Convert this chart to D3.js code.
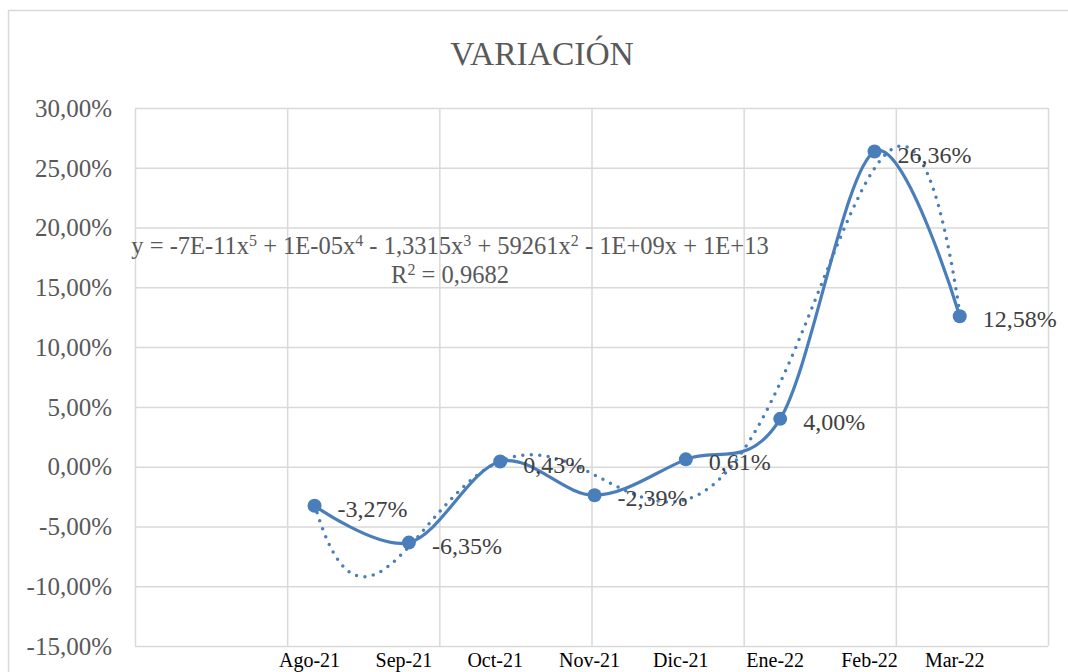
<html lang="es">
<head>
  <meta charset="UTF-8"/>
  <title>Variación</title>
  <script src="https://d3js.org/d3.v7.min.js"></script>
  <style>
    body { margin: 0; background: #fff; }
    svg { display: block; }
    .grid line { stroke: #d9d9d9; stroke-width: 1.5; }
    .grid path { display: none; }
    .ylab text { font-family: 'Liberation Serif', serif; font-size: 25px; fill: #595959; }
    .ylab path, .ylab line { display: none; }
  </style>
</head>
<body>
  <svg width="1068" height="672"></svg>

  <script>

  // monthly values (%)
  const months = ['Ago-21', 'Sep-21', 'Oct-21', 'Nov-21', 'Dic-21', 'Ene-22', 'Feb-22', 'Mar-22'];
  const dates = ['2021-08-01', '2021-09-01', '2021-10-01', '2021-11-01', '2021-12-01', '2022-01-01', '2022-02-01', '2022-03-01'];
  const variation = [-3.27, -6.35, 0.43, -2.39, 0.61, 4.00, 26.36, 12.58];

  const yTicks = [-15, -10, -5, 0, 5, 10, 15, 20, 25, 30];
  // excel date serials of the axis, major unit 50 days
  const xMin = 44350;
  const xMax = 44650;
  const xStep = 50;

  const serial = (s) => {
    const [y, m, d] = s.split('-').map(Number);
    return (Date.UTC(y, m - 1, d) - Date.UTC(1899, 11, 30)) / 864e5;
  };

  const data = dates.map((d, i) => ({ x: serial(d), y: variation[i], label: months[i] }));

  const locale = d3.formatLocale({ decimal: ',', thousands: '.', grouping: [3], currency: ['', ''], minus: '-' });
  const pct = (v) => locale.format('.2f')(v) + '%';

  const svg = d3.select('svg');
  const plotLeft = 135, plotRight = 1048, plotTop = 108, plotBottom = 646;

  // outer chart border
  svg.append('rect')
    .attr('x', 8.5).attr('y', 10.5)
    .attr('width', 1100).attr('height', 700)
    .attr('fill', 'none')
    .attr('stroke', '#d9d9d9')
    .attr('stroke-width', 1.5);

  const xScale = d3.scaleLinear().domain([xMin, xMax]).range([plotLeft, plotRight]);
  const yScale = d3.scaleLinear().domain([-15, 30]).range([plotBottom, plotTop]);

  // horizontal grid lines
  svg.append('g')
    .attr('class', 'grid')
    .attr('transform', `translate(${plotLeft}, 0)`)
    .call(d3.axisLeft(yScale).tickValues(yTicks).tickSize(-(plotRight - plotLeft)).tickFormat(''));

  // vertical grid lines
  svg.append('g')
    .attr('class', 'grid')
    .attr('transform', `translate(0, ${plotTop})`)
    .call(d3.axisBottom(xScale).tickValues(d3.range(xMin, xMax + 1, xStep)).tickSize(plotBottom - plotTop).tickFormat(''));

  // y axis labels
  svg.append('g')
    .attr('class', 'ylab')
    .attr('transform', `translate(${plotLeft}, 0)`)
    .call(d3.axisLeft(yScale).tickValues(yTicks).tickSize(0).tickPadding(23).tickFormat(pct))
    .selectAll('text')
    .attr('dy', '0.33em');

  // month labels under the axis
  svg.append('g')
    .selectAll('text')
    .data(data)
    .join('text')
    .attr('x', (d) => xScale(d.x) - 5)
    .attr('y', 667)
    .attr('text-anchor', 'middle')
    .attr('font-family', "'Liberation Serif', serif")
    .attr('font-size', 20)
    .attr('fill', '#000')
    .text((d) => d.label);

  // polynomial trendline, order 5, least squares
  const fitPoly = (pts, order) => {
    const mx = d3.mean(pts, (p) => p.x);
    const sx = 100;
    const n = order + 1;
    const A = Array.from({ length: n }, () => new Array(n + 1).fill(0));
    pts.forEach((p) => {
      const t = (p.x - mx) / sx;
      for (let r = 0; r < n; r++) {
        for (let c = 0; c < n; c++) A[r][c] += Math.pow(t, r + c);
        A[r][n] += p.y * Math.pow(t, r);
      }
    });
    for (let i = 0; i < n; i++) {
      let piv = i;
      for (let k = i + 1; k < n; k++) if (Math.abs(A[k][i]) > Math.abs(A[piv][i])) piv = k;
      [A[i], A[piv]] = [A[piv], A[i]];
      for (let k = 0; k < n; k++) {
        if (k === i) continue;
        const f = A[k][i] / A[i][i];
        for (let c = i; c <= n; c++) A[k][c] -= f * A[i][c];
      }
    }
    const coef = A.map((row, i) => row[n] / row[i]);
    return (x) => {
      const t = (x - mx) / sx;
      return coef.reduce((s, c, i) => s + c * Math.pow(t, i), 0);
    };
  };

  const trend = fitPoly(data, 5);
  const x0 = data[0].x, x1 = data[data.length - 1].x;
  const trendPts = d3.range(x0, x1 + 0.01, 1).map((x) => ({ x, y: trend(x) }));

  const line = d3.line()
    .x((d) => xScale(d.x))
    .y((d) => yScale(d.y));

  svg.append('path')
    .datum(trendPts)
    .attr('d', line)
    .attr('fill', 'none')
    .attr('stroke', '#4a7ebb')
    .attr('stroke-width', 3.5)
    .attr('stroke-linecap', 'round')
    .attr('stroke-dasharray', '0 8.5');

  // smoothed series line
  svg.append('path')
    .datum(data)
    .attr('d', line.curve(d3.curveCardinal.tension(0)))
    .attr('fill', 'none')
    .attr('stroke', '#4a7ebb')
    .attr('stroke-width', 3.2);

  svg.append('g')
    .selectAll('circle')
    .data(data)
    .join('circle')
    .attr('cx', (d) => xScale(d.x))
    .attr('cy', (d) => yScale(d.y))
    .attr('r', 7)
    .attr('fill', '#4a7ebb');

  // data labels
  svg.append('g')
    .selectAll('text')
    .data(data)
    .join('text')
    .attr('x', (d) => xScale(d.x) + 23)
    .attr('y', (d) => yScale(d.y) + 11)
    .attr('font-family', "'Liberation Serif', serif")
    .attr('font-size', 24)
    .attr('fill', '#404040')
    .text((d) => pct(d.y));

  // trendline equation
  const eqParts = [['y = -7E-11x', '5'], [' + 1E-05x', '4'], [' - 1,3315x', '3'], [' + 59261x', '2'], [' - 1E+09x + 1E+13', '']];
  const eq = svg.append('text')
    .attr('x', 450)
    .attr('y', 254)
    .attr('text-anchor', 'middle')
    .attr('font-family', "'Liberation Serif', serif")
    .attr('font-size', 24.5)
    .attr('fill', '#595959');
  eqParts.forEach(([base, sup], i) => {
    eq.append('tspan').attr('dy', i === 0 ? 0 : 8).text(base);
    if (sup) eq.append('tspan').attr('dy', -8).attr('font-size', 16).text(sup);
  });

  const r2 = svg.append('text')
    .attr('x', 450)
    .attr('y', 283)
    .attr('text-anchor', 'middle')
    .attr('font-family', "'Liberation Serif', serif")
    .attr('font-size', 24.5)
    .attr('fill', '#595959');
  r2.append('tspan').text('R');
  r2.append('tspan').attr('dy', -8).attr('font-size', 16).text('2');
  r2.append('tspan').attr('dy', 8).text(' = 0,9682');

  // title
  svg.append('text')
    .attr('x', 542)
    .attr('y', 65)
    .attr('text-anchor', 'middle')
    .attr('font-family', "'Liberation Serif', serif")
    .attr('font-size', 33.5)
    .attr('fill', '#595959')
    .text('VARIACIÓN');

  </script>
</body>
</html>
